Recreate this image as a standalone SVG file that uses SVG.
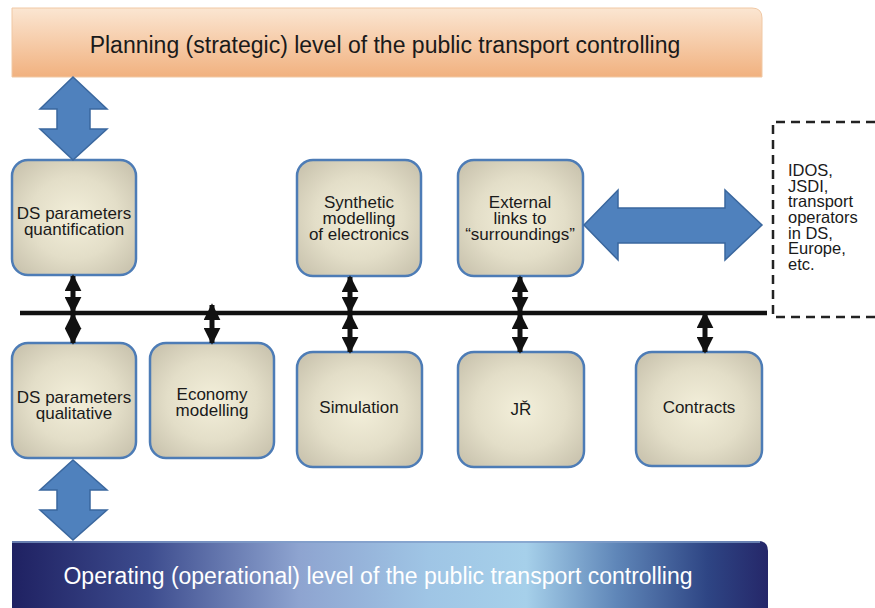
<svg xmlns="http://www.w3.org/2000/svg" width="875" height="608" viewBox="0 0 875 608">
  <defs>
    <style>
      .t { font-family: "Liberation Sans", Arial, sans-serif; fill: #1a1a1a; }
      .nt { font-size: 17px; text-anchor: middle; }
      .node { fill: url(#nodeGrad); stroke: #4d7cb6; stroke-width: 2.5; }
      .big { fill: #4f81bd; stroke: #3a679e; stroke-width: 1.5; }
      .conn { stroke: #111; stroke-width: 5; fill: none; marker-start: url(#ah); marker-end: url(#ah); }
      .bus { stroke: #111; stroke-width: 4.5; }
    </style>
    <radialGradient id="nodeGrad" cx="50%" cy="50%" r="65%">
      <stop offset="0" stop-color="#f3efda"/>
      <stop offset="0.55" stop-color="#e3dec8"/>
      <stop offset="1" stop-color="#c9c3ae"/>
    </radialGradient>
    <linearGradient id="topGrad" x1="0" y1="0" x2="0" y2="1">
      <stop offset="0" stop-color="#fbe6d2"/>
      <stop offset="1" stop-color="#f1b17f"/>
    </linearGradient>
    <linearGradient id="botGrad" x1="0" y1="0" x2="1" y2="0">
      <stop offset="0" stop-color="#1f2162"/>
      <stop offset="0.18" stop-color="#3d4c8e"/>
      <stop offset="0.38" stop-color="#8ea4d0"/>
      <stop offset="0.55" stop-color="#9fc5e5"/>
      <stop offset="0.68" stop-color="#a6d0ea"/>
      <stop offset="0.8" stop-color="#5f86b8"/>
      <stop offset="0.92" stop-color="#2e4584"/>
      <stop offset="1" stop-color="#252769"/>
    </linearGradient>
    <marker id="ah" viewBox="0 0 10 10" refX="9" refY="5" markerWidth="17" markerHeight="17" markerUnits="userSpaceOnUse" orient="auto-start-reverse">
      <path d="M0,0 L10,5 L0,10 z" fill="#111"/>
    </marker>
  </defs>

  <rect width="875" height="608" fill="#ffffff"/>

  <g id="planning">
    <path d="M12,8 H752 Q762,8 762,18 V77 H12 Z" fill="url(#topGrad)" stroke="#f0c8a4" stroke-width="1"/>
    <text class="t" x="385" y="53" font-size="23" text-anchor="middle">Planning (strategic) level of the public transport controlling</text>
  </g>

  <g id="operating">
    <path d="M12,541 H758 Q768,541 768,551 V608 H12 Z" fill="url(#botGrad)"/>
    <line x1="12" y1="542" x2="760" y2="542" stroke="#7f9cc8" stroke-width="1.5"/>
    <text class="t" x="378" y="584" font-size="23" text-anchor="middle" style="fill:#ffffff">Operating (operational) level of the public transport controlling</text>
  </g>

  <g id="external-box">
    <path d="M875,122 H773 V317 H875" fill="none" stroke="#222" stroke-width="2.5" stroke-dasharray="9,6"/>
    <text class="t" font-size="16.5">
      <tspan x="788" y="176">IDOS,</tspan>
      <tspan x="788" y="192">JSDI,</tspan>
      <tspan x="788" y="207">transport</tspan>
      <tspan x="788" y="223">operators</tspan>
      <tspan x="788" y="239">in DS,</tspan>
      <tspan x="788" y="254">Europe,</tspan>
      <tspan x="788" y="270">etc.</tspan>
    </text>
  </g>

  <g id="n-quantification">
    <rect class="node" x="12" y="160" width="124" height="115" rx="16"/>
    <text class="t nt"><tspan x="74" y="219">DS parameters</tspan><tspan x="74" y="235">quantification</tspan></text>
  </g>
  <g id="n-synthetic">
    <rect class="node" x="297" y="160" width="124" height="116" rx="16"/>
    <text class="t nt"><tspan x="359" y="208">Synthetic</tspan><tspan x="359" y="224">modelling</tspan><tspan x="359" y="240">of electronics</tspan></text>
  </g>
  <g id="n-external">
    <rect class="node" x="458" y="160" width="125" height="116" rx="16"/>
    <text class="t nt"><tspan x="520" y="208">External</tspan><tspan x="520" y="224">links to</tspan><tspan x="520" y="240">“surroundings”</tspan></text>
  </g>
  <g id="n-qualitative">
    <rect class="node" x="12" y="343" width="124" height="115" rx="16"/>
    <text class="t nt"><tspan x="74" y="403">DS parameters</tspan><tspan x="74" y="419">qualitative</tspan></text>
  </g>
  <g id="n-economy">
    <rect class="node" x="150" y="343" width="124" height="115" rx="16"/>
    <text class="t nt"><tspan x="212" y="400">Economy</tspan><tspan x="212" y="416">modelling</tspan></text>
  </g>
  <g id="n-simulation">
    <rect class="node" x="297" y="352" width="125" height="115" rx="16"/>
    <text class="t nt" x="359" y="413">Simulation</text>
  </g>
  <g id="n-jr">
    <rect class="node" x="458" y="352" width="126" height="115" rx="16"/>
    <text class="t nt" x="521" y="415">JŘ</text>
  </g>
  <g id="n-contracts">
    <rect class="node" x="636" y="352" width="126" height="114" rx="16"/>
    <text class="t nt" x="699" y="413">Contracts</text>
  </g>

  <g id="connectors">
    <line class="bus" x1="20" y1="313" x2="767" y2="313"/>
    <path class="big" d="M73,77 L107,109 L90,109 L90,129 L107,129 L73,160 L40,129 L57,129 L57,109 L40,109 Z"/>
    <path class="big" d="M73,460 L107,490 L90,490 L90,510 L107,510 L73,540 L40,510 L57,510 L57,490 L40,490 Z"/>
    <path class="big" d="M584,225 L618,190 L618,208 L725,208 L725,190 L762,225 L725,260 L725,243 L618,243 L618,260 Z"/>
    <line class="conn" x1="73" y1="276" x2="73" y2="312"/>
    <line class="conn" x1="73" y1="314" x2="73" y2="343"/>
    <line class="conn" x1="212" y1="305" x2="212" y2="343"/>
    <line class="conn" x1="350" y1="277" x2="350" y2="312"/>
    <line class="conn" x1="350" y1="314" x2="350" y2="352"/>
    <line class="conn" x1="520" y1="277" x2="520" y2="312"/>
    <line class="conn" x1="520" y1="314" x2="520" y2="352"/>
    <line class="conn" x1="705" y1="313" x2="705" y2="352"/>
  </g>
</svg>
